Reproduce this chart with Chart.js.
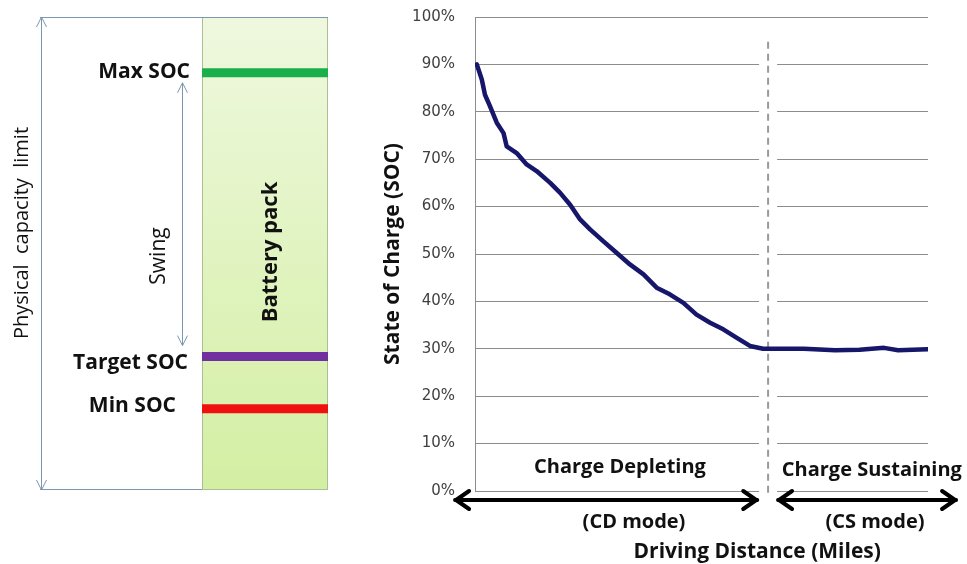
<!DOCTYPE html>
<html>
<head>
<meta charset="utf-8">
<script src="https://cdn.jsdelivr.net/npm/chart.js@4.4.1/dist/chart.umd.min.js"></script>
<style>
  body { margin: 0; background: #fff; }
  #packBox { position: absolute; left: 0; top: 0; }
  #socBox { position: absolute; left: 345px; top: 0; }
</style>
</head>
<body>
<div id="packBox"><canvas id="pack" width="345" height="564"></canvas></div>
<div id="socBox"><canvas id="soc" width="622" height="564"></canvas></div>
<script>
// ---------------- DATA -----------------------------
// battery pack levels (% of physical capacity)
const levelNames = ["Max SOC", "Target SOC", "Min SOC"];
const levelValues = [88.2, 28.2, 17.2];
const levelColors = ["#1aaf4b", "#7030a0", "#f01010"];

// SOC trace vs driving distance (distance in % of the axis)
const distance = [0.4, 1.5, 2.2, 3.3, 4.8, 6.3, 7.0, 9.2, 11.4, 13.6, 16.6, 18.8, 21.0, 23.2, 25.4, 28.3, 31.3, 34.2, 37.2, 40.1, 43.0, 46.0, 48.9, 51.9, 54.8, 57.8, 60.7, 63.6, 64.9, 72.6, 79.5, 84.9, 90.3, 93.4, 99.9];
const soc = [90, 86.8, 83.6, 81.2, 77.7, 75.5, 72.7, 71.3, 68.9, 67.5, 65, 62.9, 60.4, 57.3, 55.2, 52.7, 50.2, 47.8, 45.7, 42.9, 41.5, 39.7, 37.2, 35.5, 34.1, 32.3, 30.6, 30.0, 30, 30, 29.7, 29.8, 30.2, 29.7, 29.9];

const cdBoundary = 64.7; // end of charge depleting mode
const socTicks = [0, 10, 20, 30, 40, 50, 60, 70, 80, 90, 100];

const FONT = "'Open Sans', sans-serif";

// ---------------- BATTERY PACK DIAGRAM -----------------------------
function arrowV(ctx, x, y1, y2) {
  ctx.beginPath();
  ctx.moveTo(x, y1);
  ctx.lineTo(x, y2);
  ctx.moveTo(x - 5, y1 + 10); ctx.lineTo(x, y1); ctx.lineTo(x + 5, y1 + 10);
  ctx.moveTo(x - 5, y2 - 10); ctx.lineTo(x, y2); ctx.lineTo(x + 5, y2 - 10);
  ctx.stroke();
}

function rotText(ctx, text, x, y, font) {
  ctx.save();
  ctx.translate(x, y);
  ctx.rotate(-Math.PI / 2);
  ctx.font = font;
  ctx.textAlign = "center";
  ctx.textBaseline = "middle";
  ctx.fillText(text, 0, 0);
  ctx.restore();
}

const packPlugin = {
  id: "packPlugin",
  beforeDatasetsDraw(chart) {
    const { ctx, chartArea: a } = chart;
    const g = ctx.createLinearGradient(0, a.top, 0, a.bottom);
    g.addColorStop(0, "#eff8df");
    g.addColorStop(1, "#d3efa3");
    ctx.save();
    ctx.fillStyle = g;
    ctx.fillRect(a.left, a.top, a.right - a.left, a.bottom - a.top);
    ctx.strokeStyle = "#aabf92";
    ctx.lineWidth = 1;
    ctx.strokeRect(a.left + 0.5, a.top + 0.5, a.right - a.left - 1, a.bottom - a.top - 1);
    ctx.restore();
  },
  afterDraw(chart) {
    const { ctx, chartArea: a, scales: { y } } = chart;
    ctx.save();
    ctx.strokeStyle = "#7b98b0";
    ctx.lineWidth = 1;
    ctx.beginPath();
    ctx.moveTo(40, a.top + 0.5); ctx.lineTo(a.right, a.top + 0.5);
    ctx.moveTo(40, a.bottom - 0.5); ctx.lineTo(a.left, a.bottom - 0.5);
    ctx.stroke();
    arrowV(ctx, 41.5, a.top, a.bottom);
    arrowV(ctx, 182.5, y.getPixelForValue(levelValues[0]) + 10, y.getPixelForValue(levelValues[1]) - 11);

    ctx.fillStyle = "#111";
    ctx.font = "bold 21px " + FONT;
    ctx.textAlign = "right";
    ctx.textBaseline = "middle";
    ctx.fillText(levelNames[0], 190, y.getPixelForValue(levelValues[0]) - 1);
    ctx.fillText(levelNames[1], 188, y.getPixelForValue(levelValues[1]) + 6);
    ctx.fillText(levelNames[2], 176, y.getPixelForValue(levelValues[2]) - 3);

    rotText(ctx, "Physical  capacity  limit", 22, 233, "20px " + FONT);
    rotText(ctx, "Swing", 159, 256, "21px " + FONT);
    rotText(ctx, "Battery pack", 271, 252, "bold 22px " + FONT);
    ctx.restore();
  },
};

new Chart(document.getElementById("pack"), {
  type: "line",
  data: {
    datasets: levelValues.map((v, i) => ({
      label: levelNames[i],
      data: [{ x: 0, y: v }, { x: 1, y: v }],
      borderColor: levelColors[i],
      borderWidth: 9,
      pointRadius: 0,
      borderCapStyle: "butt",
    })),
  },
  options: {
    responsive: false,
    animation: false,
    layout: { padding: { left: 202, right: 17, top: 17, bottom: 74 } },
    plugins: { legend: { display: false }, tooltip: { enabled: false } },
    scales: {
      x: { type: "linear", min: 0, max: 1, display: false },
      y: { min: 0, max: 100, display: false },
    },
  },
  plugins: [packPlugin],
});

// ---------------- SOC LINE CHART -----------------------------
function arrowH(ctx, x1, x2, yy) {
  ctx.beginPath();
  ctx.moveTo(x1, yy); ctx.lineTo(x2, yy);
  ctx.stroke();
  ctx.beginPath();
  ctx.moveTo(x1 + 14, yy - 9); ctx.lineTo(x1 + 1, yy); ctx.lineTo(x1 + 14, yy + 9);
  ctx.moveTo(x2 - 14, yy - 9); ctx.lineTo(x2 - 1, yy); ctx.lineTo(x2 - 14, yy + 9);
  ctx.stroke();
}

const modePlugin = {
  id: "modePlugin",
  beforeDatasetsDraw(chart) {
    const { ctx, chartArea: a, scales: { x, y } } = chart;
    const bx = x.getPixelForValue(cdBoundary);
    ctx.save();
    ctx.fillStyle = "#fff";
    ctx.fillRect(bx - 9, y.getPixelForValue(97), 18, a.bottom - y.getPixelForValue(97) + 2);
    ctx.strokeStyle = "#9a9a9a";
    ctx.lineWidth = 2;
    ctx.setLineDash([7, 5]);
    ctx.beginPath();
    ctx.moveTo(bx, y.getPixelForValue(94.8));
    ctx.lineTo(bx, y.getPixelForValue(-1));
    ctx.stroke();
    ctx.restore();
  },
  afterDraw(chart) {
    const { ctx, scales: { x, y } } = chart;
    ctx.save();
    ctx.strokeStyle = "#000";
    ctx.lineWidth = 4;
    ctx.lineCap = "round";
    ctx.lineJoin = "round";
    const ay = y.getPixelForValue(-1.9);
    arrowH(ctx, x.getPixelForValue(-4.4), x.getPixelForValue(62.3), ay);
    arrowH(ctx, x.getPixelForValue(66.9), x.getPixelForValue(106.2), ay);

    ctx.fillStyle = "#111";
    ctx.font = "bold 20px " + FONT;
    ctx.textAlign = "center";
    ctx.textBaseline = "middle";
    ctx.fillText("Charge Depleting", x.getPixelForValue(32.0), y.getPixelForValue(4.9));
    ctx.fillText("Charge Sustaining", x.getPixelForValue(87.6), y.getPixelForValue(4.4));
    ctx.fillText("(CD mode)", x.getPixelForValue(35.1), y.getPixelForValue(-6.5));
    ctx.fillText("(CS mode)", x.getPixelForValue(88.3), y.getPixelForValue(-6.5));
    ctx.font = "bold 21px " + FONT;
    ctx.fillText("Driving Distance (Miles)", x.getPixelForValue(62.3), y.getPixelForValue(-12.9));
    ctx.restore();
  },
};

new Chart(document.getElementById("soc"), {
  type: "line",
  data: {
    datasets: [{
      label: "SOC",
      data: distance.map((d, i) => ({ x: d, y: soc[i] })),
      borderColor: "#16166a",
      borderWidth: 4.5,
      pointRadius: 0,
      tension: 0,
      borderJoinStyle: "round",
      borderCapStyle: "round",
    }],
  },
  options: {
    responsive: false,
    animation: false,
    layout: { padding: { left: 31, top: 17, right: 39, bottom: 73 } },
    plugins: { legend: { display: false }, tooltip: { enabled: false } },
    scales: {
      x: { type: "linear", min: 0, max: 100, display: false },
      y: {
        min: 0,
        max: 100,
        afterBuildTicks: (s) => { s.ticks = socTicks.map((v) => ({ value: v })); },
        afterFit: (s) => { s.width = 99; },
        ticks: {
          callback: (v) => v + "%",
          padding: 0,
          color: "#404040",
          font: { family: "'DejaVu Sans', sans-serif", size: 15 },
        },
        grid: { color: "#8c8c8c", drawTicks: true, tickLength: 20, tickColor: "rgba(0,0,0,0)" },
        border: { color: "#8c8c8c" },
        title: {
          display: true,
          text: "State of Charge (SOC)",
          color: "#111",
          font: { family: FONT, weight: "bold", size: 21 },
        },
      },
    },
  },
  plugins: [modePlugin],
});
</script>
</body>
</html>
